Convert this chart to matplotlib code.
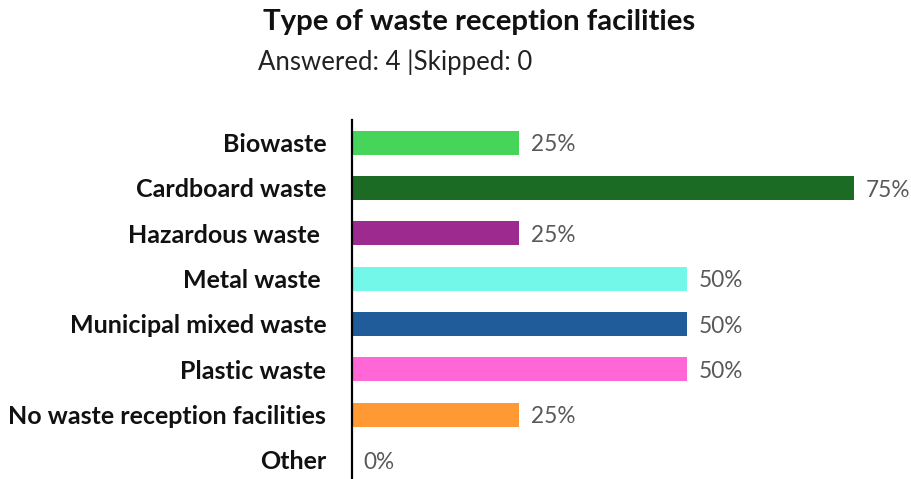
import matplotlib.pyplot as plt

# data
categories = ["Biowaste", "Cardboard waste", "Hazardous waste ", "Metal waste ",
              "Municipal mixed waste", "Plastic waste", "No waste reception facilities", "Other"]
percent = [25, 75, 25, 50, 50, 50, 25, 0]
colors = ["#47D45A", "#1B6B25", "#9C2A8F", "#72F7E8", "#1F5C99", "#FF66D6", "#FF9933", "#FFFFFF"]

plt.rcParams['font.family'] = ['Lato', 'DejaVu Sans']

fig = plt.figure(figsize=(9.12, 4.79), dpi=100)
ax = fig.add_axes([352 / 912, 0, 1 - 352 / 912, 359 / 479])

y = list(range(len(categories)))
ax.barh(y, percent, height=0.53, color=colors)
for yi, p in zip(y, percent):
    ax.text(p + 1.75, yi + 0.05, f"{p}%", va='center', ha='left', fontsize=16.3, color='#595959')

ax.set_xlim(0, 560 / 6.69)
ax.set_ylim(7.42, -0.5)
ax.set_yticks(y)
ax.set_yticklabels(categories, fontsize=18, fontweight='bold', color='#111111')
ax.tick_params(axis='y', length=0, pad=18.5)
ax.set_xticks([])
for s in ['top', 'right', 'bottom']:
    ax.spines[s].set_visible(False)
ax.spines['left'].set_linewidth(1.6)
ax.spines['left'].set_color('black')

fig.text(479 / 912, 1 - 22 / 479, "Type of waste reception facilities", ha='center', va='center',
         fontsize=21.2, fontweight='bold', color='#111111')
fig.text(258 / 912, 1 - 62 / 479, "Answered: 4 |Skipped: 0", ha='left', va='center',
         fontsize=18.5, color='#222222')

fig.savefig("out.png", dpi=100)
